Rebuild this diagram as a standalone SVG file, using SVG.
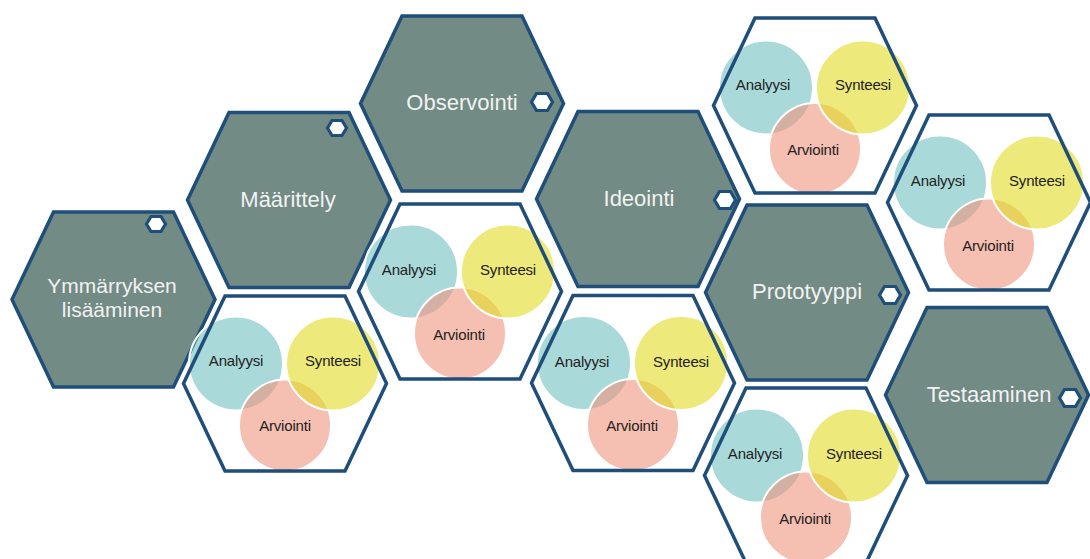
<svg xmlns="http://www.w3.org/2000/svg" xmlns:xlink="http://www.w3.org/1999/xlink" width="1090" height="559" viewBox="0 0 1090 559">
  <style>
    .stage { fill: #728b84; stroke: #1f4e7a; stroke-width: 3.5; stroke-linejoin: miter; }
    .cell-bg { fill: #ffffff; stroke: none; }
    .cell-rim { fill: none; stroke: #1f4e7a; stroke-width: 3.5; }
    .knob { fill: #ffffff; stroke: #1f4e7a; stroke-width: 3.2; }
    .stage-label { font-family: "Liberation Sans", Arial, sans-serif; font-size: 22px; fill: #f2f2f2; text-anchor: middle; }
    .stage-label-2 { font-family: "Liberation Sans", Arial, sans-serif; font-size: 21px; fill: #f2f2f2; text-anchor: middle; }
    .venn-label { font-family: "Liberation Sans", Arial, sans-serif; font-size: 15px; fill: #222222; text-anchor: middle; letter-spacing: -0.2px; }
    .c-ana { fill: #71c0c1; fill-opacity: 0.6; stroke: #ffffff; stroke-width: 2; }
    .c-arv { fill: #ee947d; fill-opacity: 0.6; stroke: #ffffff; stroke-width: 2; }
    .c-syn { fill: #e2dc2a; fill-opacity: 0.62; stroke: #ffffff; stroke-width: 2; }
  </style>
  <defs>
    <!-- flat-topped hexagon centred on the origin -->
    <polygon id="hex" points="-101.5,0 -60,-87.5 60,-87.5 101.5,0 60,87.5 -60,87.5"/>
    <polygon id="knob-lg" points="-10.5,0 -5.5,-8.5 5.5,-8.5 10.5,0 5.5,8.5 -5.5,8.5"/>
    <polygon id="knob-sm" points="-9.5,0 -5,-7.5 5,-7.5 9.5,0 5,7.5 -5,7.5"/>
  </defs>

  <rect width="1090" height="559" fill="#ffffff"/>

  <!-- connectors: the layout is a honeycomb, there are no drawn links -->
  <g id="connectors"/>

  <!-- process stages -->
  <g id="stage-ymmarrys">
    <use xlink:href="#hex" x="113.5" y="299.5" class="stage"/>
    <use xlink:href="#knob-sm" x="156" y="224" class="knob"/>
    <text class="stage-label-2" x="112" y="293">Ymmärryksen</text>
    <text class="stage-label-2" x="112" y="317">lisääminen</text>
  </g>

  <g id="stage-maarittely">
    <use xlink:href="#hex" x="289" y="200" class="stage"/>
    <use xlink:href="#knob-sm" x="337" y="128" class="knob"/>
    <text class="stage-label" x="288" y="207">Määrittely</text>
  </g>

  <g id="stage-observointi">
    <use xlink:href="#hex" x="462" y="103.5" class="stage"/>
    <use xlink:href="#knob-lg" x="542" y="102" class="knob"/>
    <text class="stage-label" x="462" y="110">Observointi</text>
  </g>

  <g id="stage-ideointi">
    <use xlink:href="#hex" x="638" y="199" class="stage"/>
    <use xlink:href="#knob-lg" x="725" y="200" class="knob"/>
    <text class="stage-label" x="639" y="206">Ideointi</text>
  </g>

  <g id="stage-prototyyppi">
    <use xlink:href="#hex" x="807" y="292.5" class="stage"/>
    <use xlink:href="#knob-lg" x="890" y="295" class="knob"/>
    <text class="stage-label" x="807" y="299">Prototyyppi</text>
  </g>

  <g id="stage-testaaminen">
    <use xlink:href="#hex" x="987" y="395" class="stage"/>
    <use xlink:href="#knob-lg" x="1070" y="398" class="knob"/>
    <text class="stage-label" x="989" y="402">Testaaminen</text>
  </g>

  <!-- analysis / synthesis / evaluation cells -->
  <g id="venn-1">
    <use xlink:href="#hex" x="285" y="383.5" class="cell-bg"/>
    <circle class="c-ana" cx="236" cy="363.5" r="47"/>
    <circle class="c-arv" cx="285" cy="425.5" r="46"/>
    <circle class="c-syn" cx="333" cy="363.5" r="47"/>
    <use xlink:href="#hex" x="285" y="383.5" class="cell-rim"/>
    <text class="venn-label" x="236" y="366">Analyysi</text>
    <text class="venn-label" x="333" y="366">Synteesi</text>
    <text class="venn-label" x="285" y="430.5">Arviointi</text>
  </g>

  <g id="venn-2">
    <use xlink:href="#hex" x="460" y="291.5" class="cell-bg"/>
    <circle class="c-ana" cx="411" cy="271.5" r="47"/>
    <circle class="c-arv" cx="460" cy="333.5" r="46"/>
    <circle class="c-syn" cx="508" cy="271.5" r="47"/>
    <use xlink:href="#hex" x="460" y="291.5" class="cell-rim"/>
    <text class="venn-label" x="409" y="275">Analyysi</text>
    <text class="venn-label" x="508" y="275">Synteesi</text>
    <text class="venn-label" x="459" y="339.5">Arviointi</text>
  </g>

  <g id="venn-3">
    <use xlink:href="#hex" x="633" y="383" class="cell-bg"/>
    <circle class="c-ana" cx="584" cy="363" r="47"/>
    <circle class="c-arv" cx="633" cy="425" r="46"/>
    <circle class="c-syn" cx="681" cy="363" r="47"/>
    <use xlink:href="#hex" x="633" y="383" class="cell-rim"/>
    <text class="venn-label" x="582" y="366.5">Analyysi</text>
    <text class="venn-label" x="681" y="366.5">Synteesi</text>
    <text class="venn-label" x="632" y="431">Arviointi</text>
  </g>

  <g id="venn-4">
    <use xlink:href="#hex" x="815" y="105.5" class="cell-bg"/>
    <circle class="c-ana" cx="766" cy="87.5" r="47"/>
    <circle class="c-arv" cx="815" cy="149" r="46"/>
    <circle class="c-syn" cx="863" cy="87.5" r="47"/>
    <use xlink:href="#hex" x="815" y="105.5" class="cell-rim"/>
    <text class="venn-label" x="763" y="90">Analyysi</text>
    <text class="venn-label" x="863" y="90">Synteesi</text>
    <text class="venn-label" x="813" y="155">Arviointi</text>
  </g>

  <g id="venn-5">
    <use xlink:href="#hex" x="806" y="475.5" class="cell-bg"/>
    <circle class="c-ana" cx="757" cy="455.5" r="47"/>
    <circle class="c-arv" cx="806" cy="517.5" r="46"/>
    <circle class="c-syn" cx="854" cy="455.5" r="47"/>
    <use xlink:href="#hex" x="806" y="475.5" class="cell-rim"/>
    <text class="venn-label" x="755" y="459">Analyysi</text>
    <text class="venn-label" x="854" y="459">Synteesi</text>
    <text class="venn-label" x="805" y="523.5">Arviointi</text>
  </g>

  <g id="venn-6">
    <use xlink:href="#hex" x="989" y="202.5" class="cell-bg"/>
    <circle class="c-ana" cx="940" cy="182.5" r="47"/>
    <circle class="c-arv" cx="989" cy="244.5" r="46"/>
    <circle class="c-syn" cx="1037" cy="182.5" r="47"/>
    <use xlink:href="#hex" x="989" y="202.5" class="cell-rim"/>
    <text class="venn-label" x="938" y="186">Analyysi</text>
    <text class="venn-label" x="1037" y="186">Synteesi</text>
    <text class="venn-label" x="988" y="250.5">Arviointi</text>
  </g>
</svg>
